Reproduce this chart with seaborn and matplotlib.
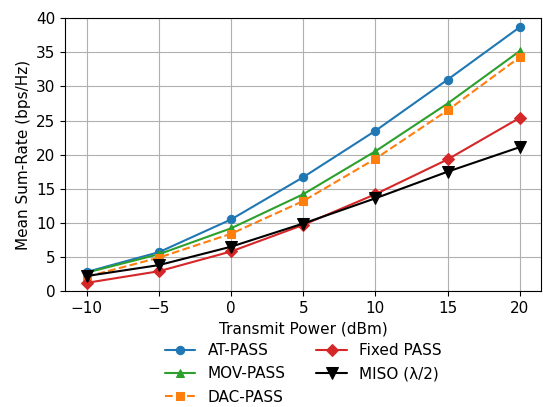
import matplotlib
matplotlib.use("Agg")
import matplotlib.pyplot as plt
import seaborn as sns
import pandas as pd

power = [-10, -5, 0, 5, 10, 15, 20]
at_pass = [2.8, 5.7, 10.5, 16.7, 23.5, 31.0, 38.7]
mov_pass = [2.7, 5.4, 9.2, 14.2, 20.5, 27.5, 35.2]
dac_pass = [2.1, 4.9, 8.4, 13.2, 19.4, 26.5, 34.3]
fixed_pass = [1.2, 2.9, 5.8, 9.7, 14.2, 19.3, 25.4]
miso = [2.2, 3.8, 6.5, 9.9, 13.6, 17.5, 21.1]

sns.set_style("ticks")
plt.rcParams['font.family'] = ['DejaVu Sans']
for k in ["text.color", "axes.labelcolor", "xtick.color", "ytick.color", "axes.edgecolor"]:
    plt.rcParams[k] = "black"

fig, ax = plt.subplots(figsize=(5.43, 4.07), dpi=100)

series = [
    ("AT-PASS", at_pass, "#1f77b4", "o", "-"),
    ("MOV-PASS", mov_pass, "#2ca02c", "^", "-"),
    ("DAC-PASS", dac_pass, "#ff7f0e", "s", "--"),
    ("Fixed PASS", fixed_pass, "#d62728", "D", "-"),
    ("MISO (λ/2)", miso, "black", "v", "-"),
]
for name, vals, col, mk, ls in series:
    df = pd.DataFrame({"x": power, "y": vals})
    sns.lineplot(data=df, x="x", y="y", ax=ax, color=col, marker=mk,
                 linestyle=ls, label=name, markersize=6 if mk != "v" else 8,
                 markeredgecolor=col, linewidth=1.5)

ax.set_xlim(-11.5, 21.5)
ax.set_ylim(0, 40)
ax.set_xticks([-10, -5, 0, 5, 10, 15, 20])
ax.set_yticks(range(0, 45, 5))
ax.grid(True, color="#b0b0b0", linewidth=0.8)
ax.set_xlabel("Transmit Power (dBm)", fontsize=11)
ax.set_ylabel("Mean Sum-Rate (bps/Hz)", fontsize=11)
ax.tick_params(labelsize=11, colors="black")
h, l = ax.get_legend_handles_labels()
ax.legend(h, l, loc="upper center",
          bbox_to_anchor=(0.5, -0.14), ncol=2, frameon=False, fontsize=11,
          columnspacing=2.0, labelspacing=0.55)
fig.subplots_adjust(left=0.12, right=0.997, top=0.955, bottom=0.285)
fig.savefig("out.png", dpi=100)
